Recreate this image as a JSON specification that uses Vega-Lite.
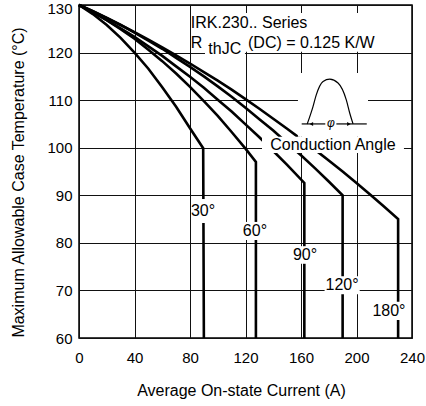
{
  "$schema": "https://vega.github.io/schema/vega-lite/v6.json",
  "width": 333,
  "height": 333,
  "autosize": "none",
  "padding": {"left": 79, "top": 5, "right": 14, "bottom": 68},
  "background": "white",
  "config": {
    "view": {"stroke": "black", "strokeWidth": 1.5},
    "axis": {
      "grid": true, "gridColor": "#111", "gridWidth": 1, "domain": false, "ticks": false,
      "labelFont": "Liberation Sans", "labelFontSize": 15, "labelColor": "black",
      "titleFont": "Liberation Sans", "titleFontSize": 16, "titleFontWeight": "normal", "titleColor": "black"
    },
    "text": {"font": "Liberation Sans", "fontSize": 16, "color": "black"}
  },
  "datasets": {
    "curves": [
      {"series": "30", "order": 0, "x": 0, "y": 130},
      {"series": "30", "order": 1, "x": 10, "y": 128.1},
      {"series": "30", "order": 2, "x": 20, "y": 125.8},
      {"series": "30", "order": 3, "x": 30, "y": 123.1},
      {"series": "30", "order": 4, "x": 40, "y": 120.0},
      {"series": "30", "order": 5, "x": 50, "y": 116.6},
      {"series": "30", "order": 6, "x": 60, "y": 112.7},
      {"series": "30", "order": 7, "x": 70, "y": 108.6},
      {"series": "30", "order": 8, "x": 80, "y": 104.1},
      {"series": "30", "order": 9, "x": 89.5, "y": 99.9},
      {"series": "30", "order": 10, "x": 90, "y": 60},
      {"series": "60", "order": 0, "x": 0, "y": 130},
      {"series": "60", "order": 1, "x": 10, "y": 128.5},
      {"series": "60", "order": 2, "x": 20, "y": 126.8},
      {"series": "60", "order": 3, "x": 30, "y": 124.9},
      {"series": "60", "order": 4, "x": 40, "y": 122.9},
      {"series": "60", "order": 5, "x": 50, "y": 120.6},
      {"series": "60", "order": 6, "x": 60, "y": 118.2},
      {"series": "60", "order": 7, "x": 70, "y": 115.6},
      {"series": "60", "order": 8, "x": 80, "y": 112.8},
      {"series": "60", "order": 9, "x": 90, "y": 109.8},
      {"series": "60", "order": 10, "x": 100, "y": 106.7},
      {"series": "60", "order": 11, "x": 110, "y": 103.3},
      {"series": "60", "order": 12, "x": 120, "y": 99.8},
      {"series": "60", "order": 13, "x": 127.5, "y": 97.0},
      {"series": "60", "order": 14, "x": 127.5, "y": 60},
      {"series": "90", "order": 0, "x": 0, "y": 130},
      {"series": "90", "order": 1, "x": 10, "y": 128.5},
      {"series": "90", "order": 2, "x": 20, "y": 126.8},
      {"series": "90", "order": 3, "x": 30, "y": 125.1},
      {"series": "90", "order": 4, "x": 40, "y": 123.3},
      {"series": "90", "order": 5, "x": 50, "y": 121.3},
      {"series": "90", "order": 6, "x": 60, "y": 119.3},
      {"series": "90", "order": 7, "x": 70, "y": 117.1},
      {"series": "90", "order": 8, "x": 80, "y": 114.9},
      {"series": "90", "order": 9, "x": 90, "y": 112.6},
      {"series": "90", "order": 10, "x": 100, "y": 110.1},
      {"series": "90", "order": 11, "x": 110, "y": 107.6},
      {"series": "90", "order": 12, "x": 120, "y": 104.9},
      {"series": "90", "order": 13, "x": 130, "y": 102.2},
      {"series": "90", "order": 14, "x": 140, "y": 99.3},
      {"series": "90", "order": 15, "x": 150, "y": 96.4},
      {"series": "90", "order": 16, "x": 162.4, "y": 92.6},
      {"series": "90", "order": 17, "x": 162.4, "y": 60},
      {"series": "120", "order": 0, "x": 0, "y": 130},
      {"series": "120", "order": 1, "x": 10, "y": 128.7},
      {"series": "120", "order": 2, "x": 20, "y": 127.3},
      {"series": "120", "order": 3, "x": 30, "y": 125.8},
      {"series": "120", "order": 4, "x": 40, "y": 124.2},
      {"series": "120", "order": 5, "x": 50, "y": 122.5},
      {"series": "120", "order": 6, "x": 60, "y": 120.8},
      {"series": "120", "order": 7, "x": 70, "y": 118.9},
      {"series": "120", "order": 8, "x": 80, "y": 117.0},
      {"series": "120", "order": 9, "x": 90, "y": 115.0},
      {"series": "120", "order": 10, "x": 100, "y": 112.9},
      {"series": "120", "order": 11, "x": 110, "y": 110.7},
      {"series": "120", "order": 12, "x": 120, "y": 108.4},
      {"series": "120", "order": 13, "x": 130, "y": 106.0},
      {"series": "120", "order": 14, "x": 140, "y": 103.6},
      {"series": "120", "order": 15, "x": 150, "y": 101.0},
      {"series": "120", "order": 16, "x": 160, "y": 98.4},
      {"series": "120", "order": 17, "x": 170, "y": 95.7},
      {"series": "120", "order": 18, "x": 180, "y": 92.9},
      {"series": "120", "order": 19, "x": 190, "y": 90.0},
      {"series": "120", "order": 20, "x": 190, "y": 60},
      {"series": "180", "order": 0, "x": 0, "y": 130},
      {"series": "180", "order": 1, "x": 10, "y": 128.7},
      {"series": "180", "order": 2, "x": 20, "y": 127.3},
      {"series": "180", "order": 3, "x": 30, "y": 125.8},
      {"series": "180", "order": 4, "x": 40, "y": 124.3},
      {"series": "180", "order": 5, "x": 50, "y": 122.7},
      {"series": "180", "order": 6, "x": 60, "y": 121.1},
      {"series": "180", "order": 7, "x": 70, "y": 119.4},
      {"series": "180", "order": 8, "x": 80, "y": 117.7},
      {"series": "180", "order": 9, "x": 90, "y": 115.9},
      {"series": "180", "order": 10, "x": 100, "y": 114.1},
      {"series": "180", "order": 11, "x": 110, "y": 112.2},
      {"series": "180", "order": 12, "x": 120, "y": 110.2},
      {"series": "180", "order": 13, "x": 130, "y": 108.2},
      {"series": "180", "order": 14, "x": 140, "y": 106.1},
      {"series": "180", "order": 15, "x": 150, "y": 104.0},
      {"series": "180", "order": 16, "x": 160, "y": 101.8},
      {"series": "180", "order": 17, "x": 170, "y": 99.6},
      {"series": "180", "order": 18, "x": 180, "y": 97.3},
      {"series": "180", "order": 19, "x": 190, "y": 95.0},
      {"series": "180", "order": 20, "x": 200, "y": 92.6},
      {"series": "180", "order": 21, "x": 210, "y": 90.1},
      {"series": "180", "order": 22, "x": 220, "y": 87.6},
      {"series": "180", "order": 23, "x": 230, "y": 85.0},
      {"series": "180", "order": 24, "x": 230, "y": 60}
    ],
    "boxes": [
      {"x": 81, "x2": 227.5, "y": 128.3, "y2": 120.15},
      {"x": 90.8, "x2": 119.6, "y": 122, "y2": 119.3},
      {"x": 157.8, "x2": 208.3, "y": 115.7, "y2": 102.3},
      {"x": 131.9, "x2": 234.2, "y": 102.3, "y2": 98.9},
      {"x": 81, "x2": 98, "y": 89.2, "y2": 84.2},
      {"x": 118, "x2": 136, "y": 84.4, "y2": 80.6},
      {"x": 154.2, "x2": 171.5, "y": 79.3, "y2": 75.6},
      {"x": 177, "x2": 202.3, "y": 73.0, "y2": 69.2},
      {"x": 211, "x2": 235.7, "y": 67.6, "y2": 63.8}
    ],
    "pulse": [
      {"order": 0, "x": 164.5, "y": 105},
      {"order": 1, "x": 168.6, "y": 108.6},
      {"order": 2, "x": 171, "y": 111.1},
      {"order": 3, "x": 175.9, "y": 113.9},
      {"order": 4, "x": 180.7, "y": 114.4},
      {"order": 5, "x": 186.7, "y": 113.6},
      {"order": 6, "x": 192.7, "y": 110},
      {"order": 7, "x": 195.1, "y": 107.3},
      {"order": 8, "x": 197.5, "y": 105}
    ],
    "segs": [
      {"x": 160.5, "x2": 177.5, "y": 105, "y2": 105},
      {"x": 185.5, "x2": 207.4, "y": 105, "y2": 105}
    ],
    "arrows": [
      {"dir": "l", "x": 167.5, "y": 105},
      {"dir": "r", "x": 194.5, "y": 105}
    ],
    "labels": [
      {"text": "30°", "x": 89.4, "y": 86.7},
      {"text": "60°", "x": 126.8, "y": 82.5},
      {"text": "90°", "x": 162.9, "y": 77.4},
      {"text": "120°", "x": 189.6, "y": 71.1},
      {"text": "180°", "x": 223.4, "y": 65.7},
      {"text": "Conduction Angle", "x": 183, "y": 100.6}
    ],
    "header": [
      {"text": "IRK.230.. Series", "x": 80.6, "y": 126.3},
      {"text": "R", "x": 80.6, "y": 122.0},
      {"text": "thJC", "x": 93.2, "y": 120.7},
      {"text": "(DC) = 0.125 K/W", "x": 121.8, "y": 121.95}
    ]
  },
  "layer": [
    {
      "data": {"name": "curves"},
      "mark": {"type": "line", "color": "black", "strokeWidth": 2.6},
      "encoding": {
        "x": {"field": "x", "type": "quantitative", "scale": {"domain": [0, 240], "nice": false},
          "axis": {"values": [0, 40, 80, 120, 160, 200, 240], "labelFlush": false, "labelPadding": 12,
            "title": "Average On-state Current (A)", "titleX": 162, "titleY": 52, "titleBaseline": "middle", "titleAlign": "center"}},
        "y": {"field": "y", "type": "quantitative", "scale": {"domain": [60, 130], "nice": false},
          "axis": {"values": [60, 70, 80, 90, 100, 110, 120, 130], "labelPadding": 7,
            "labelOffset": {"condition": {"test": "datum.value == 130", "value": 3}, "value": 0},
            "title": "Maximum Allowable Case Temperature (°C)", "titleX": -61, "titleY": 177, "titleBaseline": "middle", "titleAlign": "center"}},
        "detail": {"field": "series"},
        "order": {"field": "order", "type": "quantitative"}
      }
    },
    {
      "data": {"name": "boxes"},
      "mark": {"type": "rect", "fill": "white", "stroke": null},
      "encoding": {
        "x": {"field": "x", "type": "quantitative"},
        "x2": {"field": "x2"},
        "y": {"field": "y", "type": "quantitative"},
        "y2": {"field": "y2"}
      }
    },
    {
      "data": {"name": "pulse"},
      "mark": {"type": "line", "color": "black", "strokeWidth": 1.2, "interpolate": "monotone"},
      "encoding": {
        "x": {"field": "x", "type": "quantitative"},
        "y": {"field": "y", "type": "quantitative"},
        "order": {"field": "order", "type": "quantitative"}
      }
    },
    {
      "data": {"name": "segs"},
      "mark": {"type": "rule", "color": "black", "strokeWidth": 1.2},
      "encoding": {
        "x": {"field": "x", "type": "quantitative"},
        "x2": {"field": "x2"},
        "y": {"field": "y", "type": "quantitative"},
        "y2": {"field": "y2"}
      }
    },
    {
      "data": {"name": "arrows"},
      "mark": {"type": "point", "filled": true, "color": "black", "size": 16, "opacity": 1},
      "encoding": {
        "x": {"field": "x", "type": "quantitative"},
        "y": {"field": "y", "type": "quantitative"},
        "shape": {"field": "dir", "type": "nominal", "scale": {"domain": ["l", "r"], "range": ["triangle-left", "triangle-right"]}, "legend": null}
      }
    },
    {
      "data": {"values": [{"text": "φ", "x": 181.6, "y": 105.3}]},
      "mark": {"type": "text", "fontSize": 12, "fontStyle": "italic", "align": "center", "baseline": "middle"},
      "encoding": {
        "x": {"field": "x", "type": "quantitative"},
        "y": {"field": "y", "type": "quantitative"},
        "text": {"field": "text"}
      }
    },
    {
      "data": {"name": "labels"},
      "mark": {"type": "text", "fontSize": 16, "align": "center", "baseline": "middle"},
      "encoding": {
        "x": {"field": "x", "type": "quantitative"},
        "y": {"field": "y", "type": "quantitative"},
        "text": {"field": "text"}
      }
    },
    {
      "data": {"name": "header"},
      "mark": {"type": "text", "fontSize": 16, "align": "left", "baseline": "middle"},
      "encoding": {
        "x": {"field": "x", "type": "quantitative"},
        "y": {"field": "y", "type": "quantitative"},
        "text": {"field": "text"}
      }
    }
  ]
}
